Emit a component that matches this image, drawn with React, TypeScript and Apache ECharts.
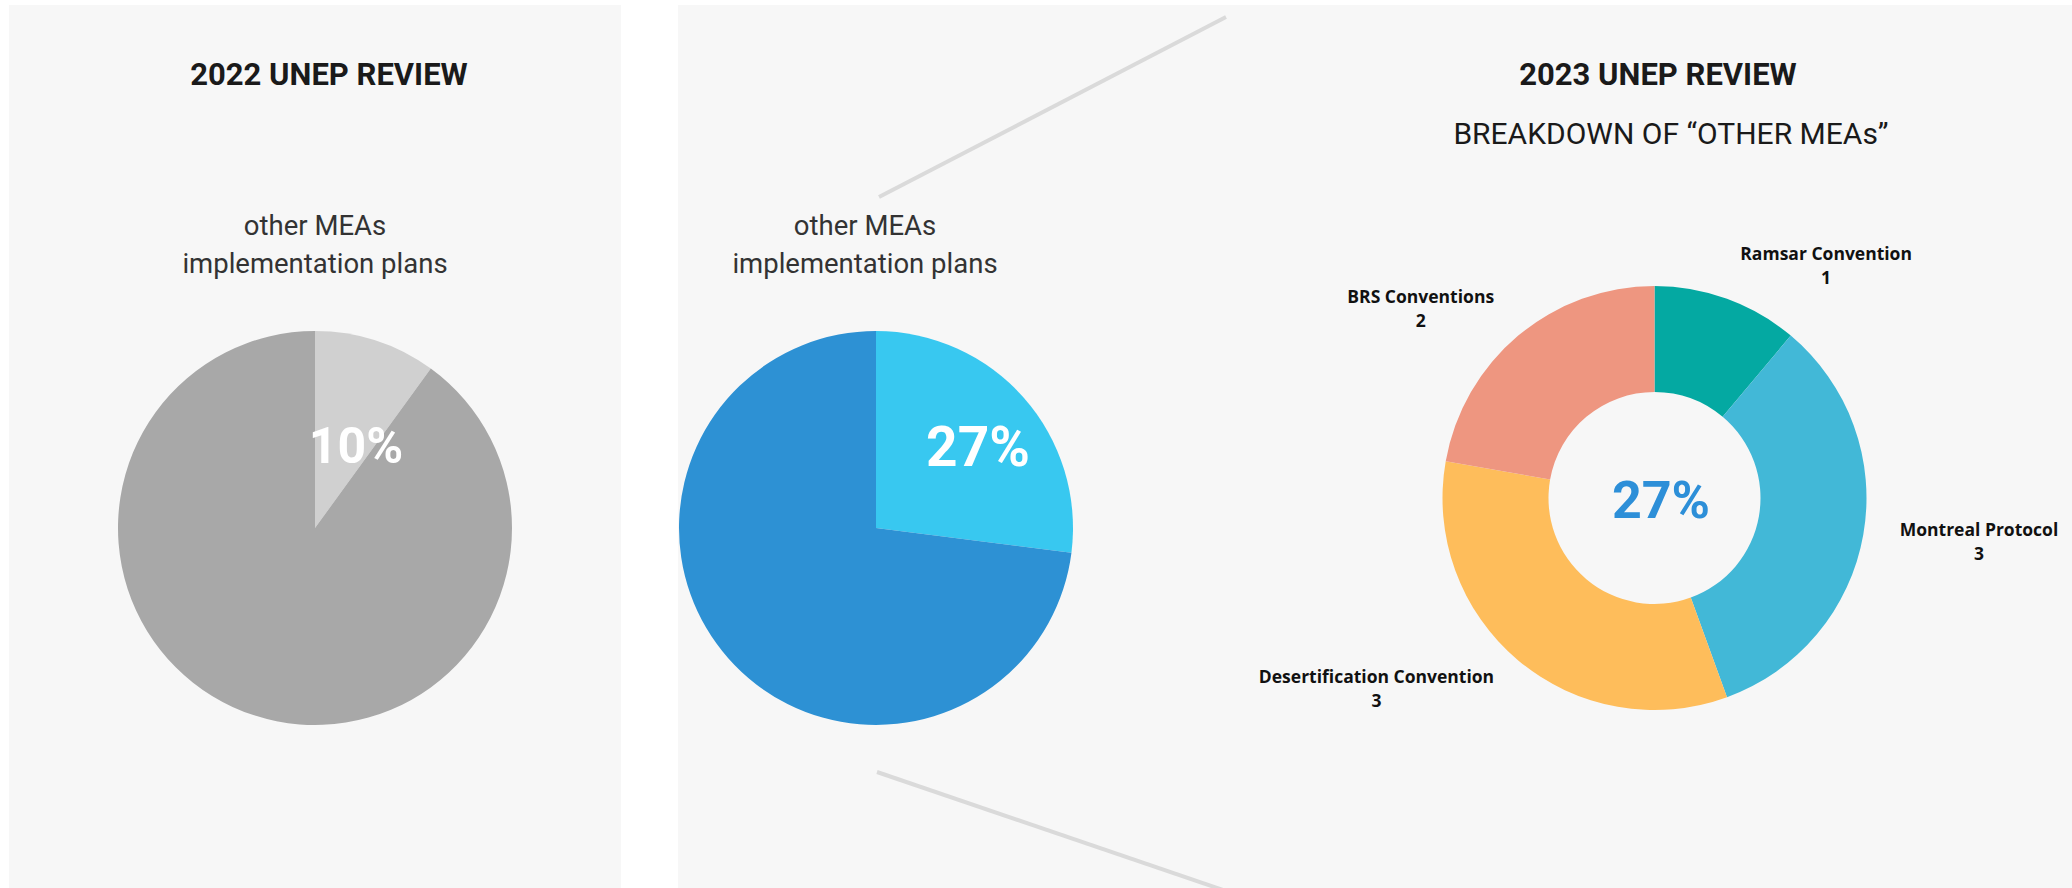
import React, { useEffect, useRef } from "react";
import * as echarts from "echarts";

const sliceNames = ["other MEAs implementation plans", "other plans"];
const shares2022 = [10, 90];
const shares2023 = [27, 73];
const breakdownNames = [
  "Ramsar Convention",
  "Montreal Protocol",
  "Desertification Convention",
  "BRS Conventions",
];
const breakdownValues = [1, 3, 3, 2];

const titles = ["2022 UNEP REVIEW", "2023 UNEP REVIEW"];
const subtitle = "BREAKDOWN OF \u201COTHER MEAs\u201D";
const pieCaption = "other MEAs\nimplementation plans";

const grays = ["#d0d0d0", "#a8a8a8"];
const blues = ["#38c8f0", "#2d91d4"];
const breakdownColors = ["#04a9a2", "#42b8d7", "#febd5b", "#ee9680"];

export default function App() {
  const ref = useRef<HTMLDivElement>(null);

  useEffect(() => {
    if (!ref.current) return;
    const chart = echarts.init(ref.current, undefined, { renderer: "svg" });

    const textStyle = (
      text: string,
      x: number,
      y: number,
      font: string,
      fill: string,
      lineHeight?: number
    ) => ({
      type: "text",
      z: 100,
      style: {
        text,
        x,
        y,
        font,
        fill,
        align: "center",
        verticalAlign: "middle",
        textAlign: "center",
        textVerticalAlign: "middle",
        lineHeight,
      },
    });

    const plainPie = (center: number[], values: number[], colors: string[]) => ({
      type: "pie",
      center,
      radius: 197,
      startAngle: 90,
      clockwise: true,
      silent: true,
      label: { show: false },
      labelLine: { show: false },
      emphasis: { disabled: true },
      itemStyle: { borderWidth: 0 },
      data: values.map((v, i) => ({
        name: sliceNames[i],
        value: v,
        itemStyle: { color: colors[i] },
      })),
    });

    const labelRich = {
      align: "center",
      fontFamily: "Open Sans",
      fontWeight: "bold",
      fontSize: 17.5,
      lineHeight: 24,
      color: "#111111",
    };

    chart.setOption({
      animation: false,
      backgroundColor: "#ffffff",
      graphic: [
        { type: "rect", z: -10, shape: { x: 9, y: 5, width: 612, height: 883 }, style: { fill: "#f7f7f7" } },
        { type: "rect", z: -10, shape: { x: 678, y: 5, width: 1394, height: 883 }, style: { fill: "#f7f7f7" } },
        {
          type: "line",
          z: -5,
          shape: { x1: 879, y1: 197, x2: 1226, y2: 17 },
          style: { stroke: "#dadada", lineWidth: 4 },
        },
        {
          type: "line",
          z: -5,
          shape: { x1: 877, y1: 772, x2: 1226, y2: 891 },
          style: { stroke: "#dadada", lineWidth: 4 },
        },
        textStyle(titles[0], 329, 74, "bold 31px Roboto", "#1a1a1a"),
        textStyle(titles[1], 1658, 74, "bold 31px Roboto", "#1a1a1a"),
        textStyle(subtitle, 1671, 133, "30px Roboto", "#1a1a1a"),
        textStyle(pieCaption, 315, 244, "27.5px Roboto", "#333333", 38),
        textStyle(pieCaption, 865, 244, "27.5px Roboto", "#333333", 38),
        textStyle(`${shares2022[0]}%`, 356, 446, "bold 50px Roboto", "#ffffff"),
        textStyle(`${shares2023[0]}%`, 978, 447, "bold 55px Roboto", "#ffffff"),
        textStyle(`${shares2023[0]}%`, 1661, 500, "bold 52px Roboto", "#2d8fd8"),
      ],
      series: [
        plainPie([315, 528], shares2022, grays),
        plainPie([876, 528], shares2023, blues),
        {
          type: "pie",
          center: [1654.5, 498],
          radius: [106, 212],
          startAngle: 90,
          clockwise: true,
          silent: true,
          avoidLabelOverlap: false,
          emphasis: { disabled: true },
          itemStyle: { borderWidth: 0 },
          label: {
            show: true,
            position: "outside",
            distanceToLabelLine: 1,
            formatter: "{name|{b}}\n{val|{c}}",
            rich: { name: labelRich, val: labelRich },
          },
          labelLine: { show: false, length: 36, length2: 0 },
          data: breakdownNames.map((n, i) => ({
            name: n,
            value: breakdownValues[i],
            itemStyle: { color: breakdownColors[i] },
          })),
        },
      ],
    });

    return () => chart.dispose();
  }, []);

  return (
    <div
      ref={ref}
      style={{ position: "absolute", left: 0, top: 0, width: 2072, height: 888 }}
    />
  );
}
